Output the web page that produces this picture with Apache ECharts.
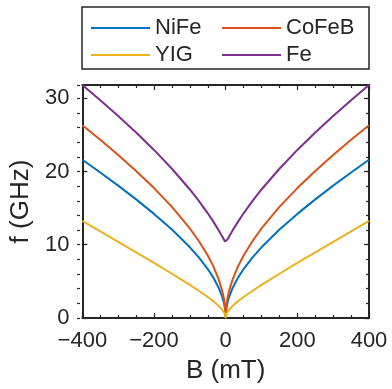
<!DOCTYPE html>
<html><head><meta charset="utf-8">
<script src="https://cdn.jsdelivr.net/npm/echarts@6/dist/echarts.min.js"></script>
<style>html,body{margin:0;padding:0;background:#fff}#c{width:392px;height:389px}</style>
</head><body><div id="c"></div>
<script>
const B = [-400,-350,-300,-250,-200,-150,-100,-75,-50,-35,-20,-10,-5,-2,0,2,5,10,20,35,50,75,100,150,200,250,300,350,400];
const NiFe = [21.6,19.86,18.07,16.19,14.21,12.07,9.65,8.27,6.68,5.55,4.17,2.93,2.07,1.31,0,1.31,2.07,2.93,4.17,5.55,6.68,8.27,9.65,12.07,14.21,16.19,18.07,19.86,21.6];
const CoFeB = [26.3,24.32,22.25,20.07,17.73,15.16,12.22,10.51,8.53,7.11,5.35,3.77,2.66,1.68,0,1.68,2.66,3.77,5.35,7.11,8.53,10.51,12.22,15.16,17.73,20.07,22.25,24.32,26.3];
const YIG = [13.25,11.83,10.4,8.96,7.51,6.04,4.51,3.72,2.87,2.31,1.68,1.15,0.8,0.5,0,0.5,0.8,1.15,1.68,2.31,2.87,3.72,4.51,6.04,7.51,8.96,10.4,11.83,13.25];
const Fe = [31.8,29.72,27.57,25.32,22.94,20.37,17.54,15.98,14.29,13.19,12.01,11.16,10.71,10.43,10.3,10.43,10.71,11.16,12.01,13.19,14.29,15.98,17.54,20.37,22.94,25.32,27.57,29.72,31.8];
const seriesNames = ['NiFe','CoFeB','YIG','Fe'];
const seriesValues = [NiFe, CoFeB, YIG, Fe];
const colors = ['#0072BD','#D95319','#EDB120','#7E2F8E'];
const xTicks = {min:-400, max:400, interval:200, minor:4};
const yTicks = {min:0, max:31.8, interval:10, minorInterval:2};

const FONT = 'Liberation Sans, Arial, sans-serif';
const INK = '#262626';
const gridRect = {left:77, right:23, top:85, bottom:71};

function pairs(vals){ return B.map((b,i)=>[b, vals[i]]); }
const minus = v => String(v).replace('-', '\u2212');

const chart = echarts.init(document.getElementById('c'), null, {renderer:'canvas'});
const tickBase = {inside:true, length:5, lineStyle:{color:INK, width:1.2}};
const minorBase = {show:true, splitNumber:xTicks.minor, length:3, lineStyle:{color:INK, width:1.2}};
const legendBase = {orient:'vertical', top:17, padding:0, itemGap:5, itemWidth:59, itemHeight:2, icon:'rect', z:5,
  textStyle:{fontFamily:FONT, fontSize:22, color:INK}};
chart.setOption({
  animation:false,
  backgroundColor:'#fff',
  color: colors,
  graphic:[{type:'rect', z:1, shape:{x:82, y:7, width:287, height:62}, style:{fill:'#fff', stroke:INK, lineWidth:1.5}}],
  legend:[
    Object.assign({data:['NiFe','YIG'], left:91}, legendBase),
    Object.assign({data:['CoFeB','Fe'], left:222}, legendBase)
  ],
  grid:[Object.assign({containLabel:false}, gridRect), Object.assign({containLabel:false}, gridRect)],
  xAxis:[
    {type:'value', gridIndex:0, position:'bottom', min:xTicks.min, max:xTicks.max, interval:xTicks.interval,
     name:'B (mT)', nameLocation:'middle', nameGap:40, nameTextStyle:{fontFamily:FONT, fontSize:26, color:INK},
     axisLine:{onZero:false, lineStyle:{color:INK, width:2}}, axisTick:tickBase, minorTick:minorBase,
     splitLine:{show:false}, axisLabel:{fontFamily:FONT, fontSize:22, color:INK, margin:12, formatter:minus}},
    {type:'value', gridIndex:0, position:'top', min:xTicks.min, max:xTicks.max, interval:xTicks.interval,
     axisLine:{onZero:false, lineStyle:{color:INK, width:2}}, axisTick:tickBase, minorTick:minorBase,
     splitLine:{show:false}, axisLabel:{show:false}},
    {type:'value', gridIndex:1, show:false, min:xTicks.min, max:xTicks.max}
  ],
  yAxis:[
    {type:'value', gridIndex:0, position:'left', min:yTicks.min, max:yTicks.max, interval:yTicks.interval,
     name:'f (GHz)', nameLocation:'middle', nameGap:42, nameTextStyle:{fontFamily:FONT, fontSize:26, color:INK},
     axisLine:{onZero:false, lineStyle:{color:INK, width:2}}, axisTick:tickBase,
     splitLine:{show:false}, axisLabel:{fontFamily:FONT, fontSize:22, color:INK, margin:13, showMaxLabel:false,
       formatter: v => (v % 10 === 0 ? String(v) : '')}},
    {type:'value', gridIndex:0, position:'right', min:yTicks.min, max:yTicks.max, interval:yTicks.interval,
     axisLine:{onZero:false, lineStyle:{color:INK, width:2}}, axisTick:tickBase,
     splitLine:{show:false}, axisLabel:{show:false}},
    {type:'value', gridIndex:1, position:'left', min:yTicks.min, max:yTicks.max, interval:yTicks.minorInterval,
     axisLine:{show:false, onZero:false}, axisTick:{inside:true, length:3, lineStyle:{color:INK, width:1.2}},
     splitLine:{show:false}, axisLabel:{show:false}},
    {type:'value', gridIndex:1, position:'right', min:yTicks.min, max:yTicks.max, interval:yTicks.minorInterval,
     axisLine:{show:false, onZero:false}, axisTick:{inside:true, length:3, lineStyle:{color:INK, width:1.2}},
     splitLine:{show:false}, axisLabel:{show:false}}
  ],
  series: seriesNames.map((n,i)=>({
    name:n, type:'line', xAxisIndex:0, yAxisIndex:0, data:pairs(seriesValues[i]),
    showSymbol:false, symbol:'none', smooth:false, lineStyle:{width:2, color:colors[i]}, itemStyle:{color:colors[i]}
  }))
});
</script></body></html>
